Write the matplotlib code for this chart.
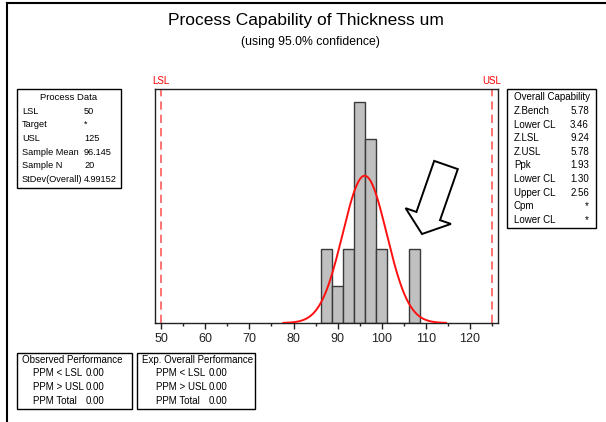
import numpy as np
import matplotlib
matplotlib.use("Agg")
import matplotlib.pyplot as plt
from matplotlib.patches import Rectangle, Polygon
from matplotlib.lines import Line2D
from matplotlib.ticker import MultipleLocator
import matplotlib.transforms as mtransforms

plt.rcParams["font.family"] = ["Liberation Sans", "DejaVu Sans"]

title = "Process Capability of Thickness um"
subtitle = "(using 95.0% confidence)"

lsl = 50
usl = 125
sample_mean = 96.145
sample_n = 20
stdev_overall = 4.99152

bin_starts = [86.25, 88.75, 91.25, 93.75, 96.25, 98.75, 101.25, 103.75, 106.25]
bin_counts = [2, 1, 2, 6, 5, 2, 0, 0, 2]
bin_width = 2.5

x_ticks = [50, 60, 70, 80, 90, 100, 110, 120]

process_labels = ["LSL", "Target", "USL", "Sample Mean", "Sample N", "StDev(Overall)"]
process_values = ["50", "*", "125", "96.145", "20", "4.99152"]

capability_labels = ["Z.Bench", "Lower CL", "Z.LSL", "Z.USL", "Ppk",
                     "Lower CL", "Upper CL", "Cpm", "Lower CL"]
capability_values = ["5.78", "3.46", "9.24", "5.78", "1.93", "1.30", "2.56", "*", "*"]

perf_labels = ["PPM < LSL", "PPM > USL", "PPM Total"]
observed_values = ["0.00", "0.00", "0.00"]
expected_values = ["0.00", "0.00", "0.00"]

W, H = 606, 422
fig = plt.figure(figsize=(W / 100, H / 100), dpi=100)


def fx(x):
    return x / W


def fy(y):
    return 1 - y / H


def box(x0, y0, x1, y1):
    fig.add_artist(Rectangle((fx(x0), fy(y1)), (x1 - x0) / W, (y1 - y0) / H,
                             transform=fig.transFigure, fill=False,
                             ec="black", lw=1))


def txt(x, y, s, ha="left", size=7):
    fig.text(fx(x), fy(y), s, ha=ha, va="center", fontsize=size, color="black")


def block_arrow(tail, tip, shaft_w, head_w, head_l):
    # hollow block arrow, built in figure pixels
    tail = np.array(tail, float)
    tip = np.array(tip, float)
    d = tip - tail
    d /= np.hypot(*d)
    n = np.array([-d[1], d[0]])
    base = tip - d * head_l
    pts = [tail + n * shaft_w / 2, base + n * shaft_w / 2, base + n * head_w / 2,
           tip, base - n * head_w / 2, base - n * shaft_w / 2, tail - n * shaft_w / 2]
    pts = [(fx(p[0]), fy(p[1])) for p in pts]
    fig.add_artist(Polygon(pts, closed=True, fc="white", ec="black", lw=1.4,
                           transform=fig.transFigure, zorder=5))


# outer frame (top and left only)
fig.add_artist(Line2D([fx(6.5), fx(606)], [fy(3), fy(3)], color="black",
                      lw=1.5, transform=fig.transFigure))
fig.add_artist(Line2D([fx(6.5), fx(6.5)], [fy(3), fy(422)], color="black",
                      lw=1.5, transform=fig.transFigure))

fig.text(fx(306), fy(21), title, ha="center", va="center", fontsize=12.5)
fig.text(fx(310), fy(41.5), subtitle, ha="center", va="center", fontsize=8.8)

# histogram + fitted normal curve
ax = fig.add_axes([fx(155), fy(323), 343 / W, 234 / H])
ax.bar(bin_starts, bin_counts, width=bin_width, align="edge",
       color="#c0c0c0", edgecolor="#3a3a3a", lw=1, zorder=2)

xs = np.linspace(77.7, 114.6, 300)
pdf = np.exp(-0.5 * ((xs - sample_mean) / stdev_overall) ** 2) / (stdev_overall * np.sqrt(2 * np.pi))
ax.plot(xs, pdf * sample_n * bin_width, color="#ff1010", lw=1.4, zorder=3)

for val, name in [(lsl, "LSL"), (usl, "USL")]:
    ax.axvline(val, color="#ff5c5c", ls=(0, (5, 3)), lw=1.2, zorder=1)
    trans = mtransforms.blended_transform_factory(ax.transData, ax.transAxes)
    ax.text(val, 1.012, name, transform=trans, ha="center", va="bottom",
            color="#ff0000", fontsize=7)

ax.set_xlim(48.57, 126.4)
ax.set_ylim(0, 6.35)
ax.set_yticks([])
ax.set_xticks(x_ticks)
ax.xaxis.set_minor_locator(MultipleLocator(5))
ax.tick_params(axis="x", which="major", direction="out", length=4, width=1,
               labelsize=9, pad=3, colors="#222222")
ax.tick_params(axis="x", which="minor", direction="out", length=2, width=1,
               colors="#222222")
for sp in ax.spines.values():
    sp.set_color("#222222")
    sp.set_linewidth(1)

# hollow arrow pointing at the outlier bar
block_arrow((446, 165), (422, 234), 25, 48, 19)

# Process Data box
box(17, 89, 121, 188)
txt(69, 97.5, "Process Data", ha="center", size=6.8)
for i, (lab, val) in enumerate(zip(process_labels, process_values)):
    y = 111 + 13.7 * i
    txt(22, y, lab, size=6.6)
    txt(84, y, val, size=6.6)

# Overall Capability box
box(507, 89, 596, 228)
txt(551.5, 97.5, "Overall Capability", ha="center")
for i, (lab, val) in enumerate(zip(capability_labels, capability_values)):
    y = 111 + 13.6 * i
    txt(514, y, lab)
    txt(589, y, val, ha="right")

# performance boxes
box(17, 353, 132, 409)
txt(22, 360, "Observed Performance")
box(137, 353, 255, 409)
txt(142, 360, "Exp. Overall Performance")
for i, lab in enumerate(perf_labels):
    y = 373.5 + 13.5 * i
    txt(33, y, lab)
    txt(86, y, observed_values[i])
    txt(156, y, lab)
    txt(209, y, expected_values[i])

fig.savefig("out.png", dpi=100)
